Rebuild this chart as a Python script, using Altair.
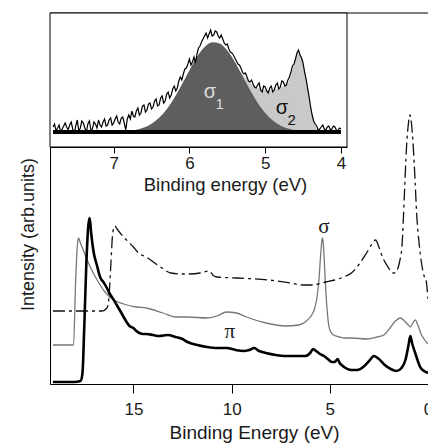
import altair as alt
import pandas as pd

# ---------------- main panel data (binding energy eV, intensity arb.) ----------------
blk_e = [19.1, 18.0, 17.7, 17.6, 17.5, 17.4, 17.3, 17.23, 17.15, 17.02, 16.85, 16.7, 16.5, 16.35,
         16.2, 16.0, 15.85, 15.7, 15.5, 15.35, 15.2, 15.0, 14.85, 14.7, 14.5, 14.35, 14.0, 13.7,
         13.25, 12.85, 12.5, 12.25, 11.75, 11.25, 10.75, 10.25, 9.8, 9.4, 9.1, 8.85, 8.6, 8.25,
         7.75, 7.25, 6.75, 6.25, 6.0, 5.85, 5.7, 5.5, 5.3, 5.1, 4.9, 4.75, 4.6, 4.5, 4.4, 4.2,
         3.9, 3.6, 3.3, 3.0, 2.75, 2.5, 2.2, 1.9, 1.6, 1.35, 1.15, 1.0, 0.9, 0.8, 0.65, 0.5,
         0.4, 0.2, 0.0]
blk_h = [2, 2, 3, 10, 60, 120, 158, 166, 150, 131, 118, 107, 101, 96,
         90, 84, 79, 74, 67, 62, 58, 56, 53, 51, 50, 50, 49, 48,
         49, 47, 45, 42, 39, 37, 36, 36, 34, 33, 34, 36, 33, 31,
         29, 28, 28, 28, 31, 35, 33, 30, 28, 25, 22, 22, 25, 21, 19, 16,
         14, 14, 17, 23, 28, 25, 19, 15, 13, 16, 24, 38, 48, 40, 31, 22,
         17, 13, 11]

gry_e = [19.1, 18.05, 17.95, 17.85, 17.8, 17.7, 17.5, 17.2, 16.85, 16.45, 16.0, 15.5, 14.85,
         14.35, 13.5, 12.85, 12.25, 11.25, 10.75, 10.25, 9.75, 9.25, 8.25, 7.25, 6.6, 6.25,
         6.0, 5.8, 5.65, 5.55, 5.47, 5.4, 5.37, 5.33, 5.27, 5.2, 5.12, 5.05, 4.95, 4.8, 4.5,
         4.25, 3.9, 3.1, 2.6, 2.25, 1.9, 1.75, 1.6, 1.4, 1.2, 1.05, 0.9, 0.8, 0.65, 0.5, 0.35,
         0.2, 0.0]
gry_h = [39, 39, 100, 140, 146, 141, 131, 117, 104, 92, 84, 80, 77,
         76, 71, 67, 67, 66, 68, 72, 71, 67, 61, 58, 59, 62,
         67, 74, 87, 105, 128, 144, 146, 140, 118, 92, 70, 58, 52, 49, 47,
         46, 46, 45, 47, 49, 57, 61, 64, 66, 63, 60, 57, 60, 64, 58, 50,
         45, 40]

dsh_e = [19.1, 16.6, 16.35, 16.25, 16.15, 16.05, 15.95, 15.8, 15.5, 15.0, 14.75, 14.35, 13.7,
         13.1, 12.6, 12.25, 11.6, 11.15, 10.9, 10.75, 9.75, 8.1, 7.0, 6.4, 5.9, 5.6, 5.2, 4.75,
         4.3, 3.9, 3.5, 3.1, 2.85, 2.67, 2.5, 2.3, 2.1, 1.9, 1.75, 1.6, 1.45, 1.33, 1.2, 1.1,
         1.0, 0.92, 0.85, 0.75, 0.65, 0.58, 0.45, 0.33, 0.2, 0.1, 0.0]
dsh_h = [73, 73, 76, 86, 120, 152, 158, 154, 147, 137, 131, 127, 118,
         111, 110, 110, 111, 113, 108, 107, 106, 104, 101, 99, 99, 100, 102, 104,
         107, 111, 120, 132, 140, 144, 137, 126, 119, 113, 111, 113, 122, 137, 190, 235,
         260, 269, 262, 237, 200, 171, 140, 121, 108, 104, 85]

main_lbl_e = [5.3, 10.1]
main_lbl_h = [157, 52]
main_lbl_t = ["σ", "π"]

# ---------------- inset data ----------------
ins_e = [7.80, 7.78, 7.76, 7.74, 7.72, 7.70, 7.68, 7.66, 7.64, 7.62, 7.60, 7.58, 7.56, 7.54,
         7.52, 7.50, 7.48, 7.46, 7.44, 7.42, 7.40, 7.38, 7.36, 7.34, 7.32, 7.30, 7.28, 7.26,
         7.24, 7.22, 7.20, 7.18, 7.16, 7.14, 7.12, 7.10, 7.08, 7.06, 7.04, 7.02, 7.00, 6.98,
         6.96, 6.94, 6.92, 6.90, 6.88, 6.86, 6.84, 6.82, 6.80, 6.78, 6.76, 6.74, 6.72, 6.70,
         6.68, 6.66, 6.64, 6.62, 6.60, 6.58, 6.56, 6.54, 6.52, 6.50, 6.48, 6.46, 6.44, 6.42,
         6.40, 6.38, 6.36, 6.34, 6.32, 6.30, 6.28, 6.26, 6.24, 6.22, 6.20, 6.18, 6.16, 6.14,
         6.12, 6.10, 6.08, 6.06, 6.04, 6.02, 6.00, 5.98, 5.96, 5.94, 5.92, 5.90, 5.88, 5.86,
         5.84, 5.82, 5.80, 5.78, 5.76, 5.74, 5.72, 5.70, 5.68, 5.66, 5.64, 5.62, 5.60, 5.58,
         5.56, 5.54, 5.52, 5.50, 5.48, 5.46, 5.44, 5.42, 5.40, 5.38, 5.36, 5.34, 5.32, 5.30,
         5.28, 5.26, 5.24, 5.22, 5.20, 5.18, 5.16, 5.14, 5.12, 5.10, 5.08, 5.06, 5.04, 5.02,
         5.00, 4.98, 4.96, 4.94, 4.92, 4.90, 4.88, 4.86, 4.84, 4.82, 4.80, 4.78, 4.76, 4.74,
         4.72, 4.70, 4.68, 4.66, 4.64, 4.62, 4.60, 4.58, 4.56, 4.54, 4.52, 4.50, 4.48, 4.46,
         4.44, 4.42, 4.40, 4.38, 4.36, 4.34, 4.32, 4.30, 4.28, 4.26, 4.24, 4.22, 4.20, 4.18,
         4.16, 4.14, 4.12, 4.10, 4.08, 4.06, 4.04, 4.02, 4.00]
ins_h = [5, 8, 1, 4, 7, 0, 3, 6, 9, 5, 2, 7, 10, 3,
         -2, 6, 12, 1, 4, 11, 9, 4, 0, 8, 11, 2, 3, 10,
         8, 4, 12, 7, 5, 10, 13, 6, 7, 12, 14, 7, 9, 13,
         16, 10, 8, 14, 15, 9, 2, 13, 17, 13, 21, 16, 15, 21,
         24, 17, 19, 26, 27, 20, 22, 28, 29, 23, 25, 31, 33, 26,
         27, 34, 36, 29, 31, 38, 40, 34, 37, 43, 46, 41, 44, 51,
         55, 52, 58, 63, 64, 68, 73, 67, 70, 75, 69, 78, 84, 86,
         90, 93, 96, 99, 94, 98, 102, 96, 97, 101, 100, 96, 94, 97,
         93, 89, 87, 88, 83, 80, 79, 77, 74, 71, 68, 67, 64, 60,
         58, 59, 55, 51, 50, 52, 48, 45, 44, 47, 49, 42, 40, 46,
         45, 41, 39, 44, 46, 40, 42, 47, 49, 43, 45, 51, 50, 46,
         47, 52, 55, 60, 66, 68, 73, 79, 82, 77, 74, 69, 60, 53,
         44, 35, 25, 17, 11, 8, 6, 2, 3, 5, 7, 3, 2, 5,
         6, 2, 3, 6, 5, 2, 1, 4, 3]

s1_e = [6.9, 6.8, 6.7, 6.6, 6.5, 6.4, 6.3, 6.2, 6.1, 6.0, 5.9, 5.8, 5.7, 5.6, 5.5, 5.4, 5.3,
        5.2, 5.1, 5.0, 4.9, 4.8, 4.7, 4.6, 4.5, 4.4]
s1_h = [0.5, 1.1, 2.3, 4.5, 8.3, 14.2, 22.8, 34, 47.4, 61.7, 75, 84.9, 89.7, 88.5, 81.4, 69.9,
        56, 41.9, 29.2, 19, 11.6, 6.5, 3.5, 1.7, 0.7, 0.3]

s2_e = [5.5, 5.4, 5.3, 5.21, 5.1, 4.99, 4.9, 4.82, 4.75, 4.69, 4.64, 4.59, 4.56, 4.53, 4.5,
        4.46, 4.43, 4.4, 4.37, 4.34, 4.32, 4.30]
s2_h = [70, 66, 58, 50, 44, 42, 42, 44, 46, 50, 62, 75, 80, 76, 69, 55, 42, 28, 15, 7, 3, 0]

base_e = [7.8, 4.0]
base_h = [0, 0]

ins_lbl_e = [5.73, 5.6, 4.78, 4.65]
ins_lbl_h = [40, 28, 24, 12]
ins_lbl_t = ["σ", "1", "σ", "2"]
ins_lbl_c = ["#dddddd", "#dddddd", "#111111", "#111111"]
ins_lbl_s = [20, 15, 20, 15]

W, H = 378, 371
INS_W, INS_H = 297, 134

FONT = "Liberation Sans"
TXT = "#1a1a1a"

# ---------------- scales & axes ----------------
mx = alt.Scale(domain=[19.25, 0], nice=False, zero=False)
my = alt.Scale(domain=[0, 371], nice=False, zero=False)
mx_axis = alt.Axis(values=[15, 10, 5, 0], format="d", tickSize=9, tickColor="black",
                   domainColor="black", grid=False, labelFontSize=17, labelPadding=8,
                   labelFlush=False, labelOverlap=False, labelColor=TXT, labelFont=FONT,
                   title="Binding Energy (eV)", titleFontSize=19, titleFontWeight="normal",
                   titleColor=TXT, titleFont=FONT, titleX=204, titleY=54,
                   titleBaseline="alphabetic", titleAlign="center")
my_axis = alt.Axis(labels=False, ticks=False, grid=False, domainColor="black",
                   title="Intensity (arb.units)", titleFontSize=18, titleFontWeight="normal",
                   titleColor=TXT, titleFont=FONT, titleAngle=270, titleX=-17, titleY=221,
                   titleBaseline="alphabetic", titleAlign="center")


def mline(e, h, **kw):
    df = pd.DataFrame({"E": e, "h": h})
    return alt.Chart(df).mark_line(interpolate="monotone", clip=True, **kw).encode(
        x=alt.X("E:Q", scale=mx, axis=mx_axis),
        y=alt.Y("h:Q", scale=my, axis=my_axis),
    )


main_frame_top = alt.Chart(pd.DataFrame({"a": [0]})).mark_rule(color="black", strokeWidth=1).encode(
    x=alt.value(0), x2=alt.value(W), y=alt.value(0)
)

gray_line = mline(gry_e, gry_h, color="#777777", strokeWidth=1.3)
dash_line = mline(dsh_e, dsh_h, color="#111111", strokeWidth=1.3, strokeDash=[12, 4, 3, 4])
black_line = mline(blk_e, blk_h, color="#000000", strokeWidth=2.6)

main_lbls = alt.Chart(pd.DataFrame({"E": main_lbl_e, "h": main_lbl_h, "t": main_lbl_t})).mark_text(
    font="Liberation Serif", fontSize=21, color=TXT, baseline="middle", align="center"
).encode(
    x=alt.X("E:Q", scale=mx, axis=mx_axis),
    y=alt.Y("h:Q", scale=my, axis=my_axis),
    text="t:N",
)

main_layer = alt.layer(main_frame_top, gray_line, dash_line, black_line, main_lbls)

# ---------------- inset ----------------
ix = alt.Scale(domain=[7.84, 3.92], range=[0, INS_W], nice=False, zero=False)
iy = alt.Scale(domain=[-15, 119], range=[INS_H, 0], nice=False, zero=False)
ix_axis = alt.Axis(orient="bottom", offset=INS_H - H, values=[7, 6, 5, 4], format="d",
                   tickSize=6, tickColor="black", domainColor="black", grid=False,
                   labelFontSize=17, labelPadding=2, labelColor=TXT, labelFont=FONT,
                   labelFlush=False, labelOverlap=False,
                   title="Binding energy (eV)", titleFontSize=18.5, titleFontWeight="normal",
                   titleColor=TXT, titleFont=FONT, titleX=175, titleY=43,
                   titleBaseline="alphabetic", titleAlign="center")


def ienc(ch):
    return ch.encode(
        x=alt.X("E:Q", scale=ix, axis=ix_axis),
        y=alt.Y("h:Q", scale=iy, axis=None),
    )


ins_box = alt.Chart(pd.DataFrame({"a": [0]})).mark_rect(
    fill="white", stroke="black", strokeWidth=1
).encode(x=alt.value(0), x2=alt.value(INS_W), y=alt.value(0), y2=alt.value(INS_H))

s2_area = alt.Chart(pd.DataFrame({"E": s2_e, "h": s2_h, "z": [0] * len(s2_e)})).mark_area(
    color="#c9c9c9", interpolate="monotone"
).encode(
    x=alt.X("E:Q", scale=ix, axis=ix_axis),
    y=alt.Y("h:Q", scale=iy, axis=None),
    y2="z:Q",
)
s1_area = alt.Chart(pd.DataFrame({"E": s1_e, "h": s1_h, "z": [0] * len(s1_e)})).mark_area(
    color="#5e5e5e", interpolate="monotone"
).encode(
    x=alt.X("E:Q", scale=ix, axis=ix_axis),
    y=alt.Y("h:Q", scale=iy, axis=None),
    y2="z:Q",
)
ins_line = ienc(alt.Chart(pd.DataFrame({"E": ins_e, "h": ins_h})).mark_line(
    color="#000000", strokeWidth=1.2))
ins_base = ienc(alt.Chart(pd.DataFrame({"E": base_e, "h": base_h})).mark_line(
    color="#000000", strokeWidth=4))
ins_lbls = alt.Chart(pd.DataFrame({"E": ins_lbl_e, "h": ins_lbl_h, "t": ins_lbl_t,
                                   "c": ins_lbl_c, "s": ins_lbl_s})).mark_text(
    font=FONT, baseline="middle", align="center"
).encode(
    x=alt.X("E:Q", scale=ix, axis=ix_axis),
    y=alt.Y("h:Q", scale=iy, axis=None),
    text="t:N",
    color=alt.Color("c:N", scale=None),
    size=alt.Size("s:Q", scale=None),
)

inset_layer = alt.layer(ins_box, s2_area, s1_area, ins_line, ins_base, ins_lbls)

chart = alt.layer(main_layer, inset_layer).resolve_scale(
    x="independent", y="independent"
).properties(
    width=W, height=H,
    autosize=alt.AutoSizeParams(type="none"),
    padding={"left": 42, "top": 5, "right": 0, "bottom": 60},
).configure_view(stroke=None)

chart.save("out.html", embed_options={"renderer": "svg", "actions": False})
